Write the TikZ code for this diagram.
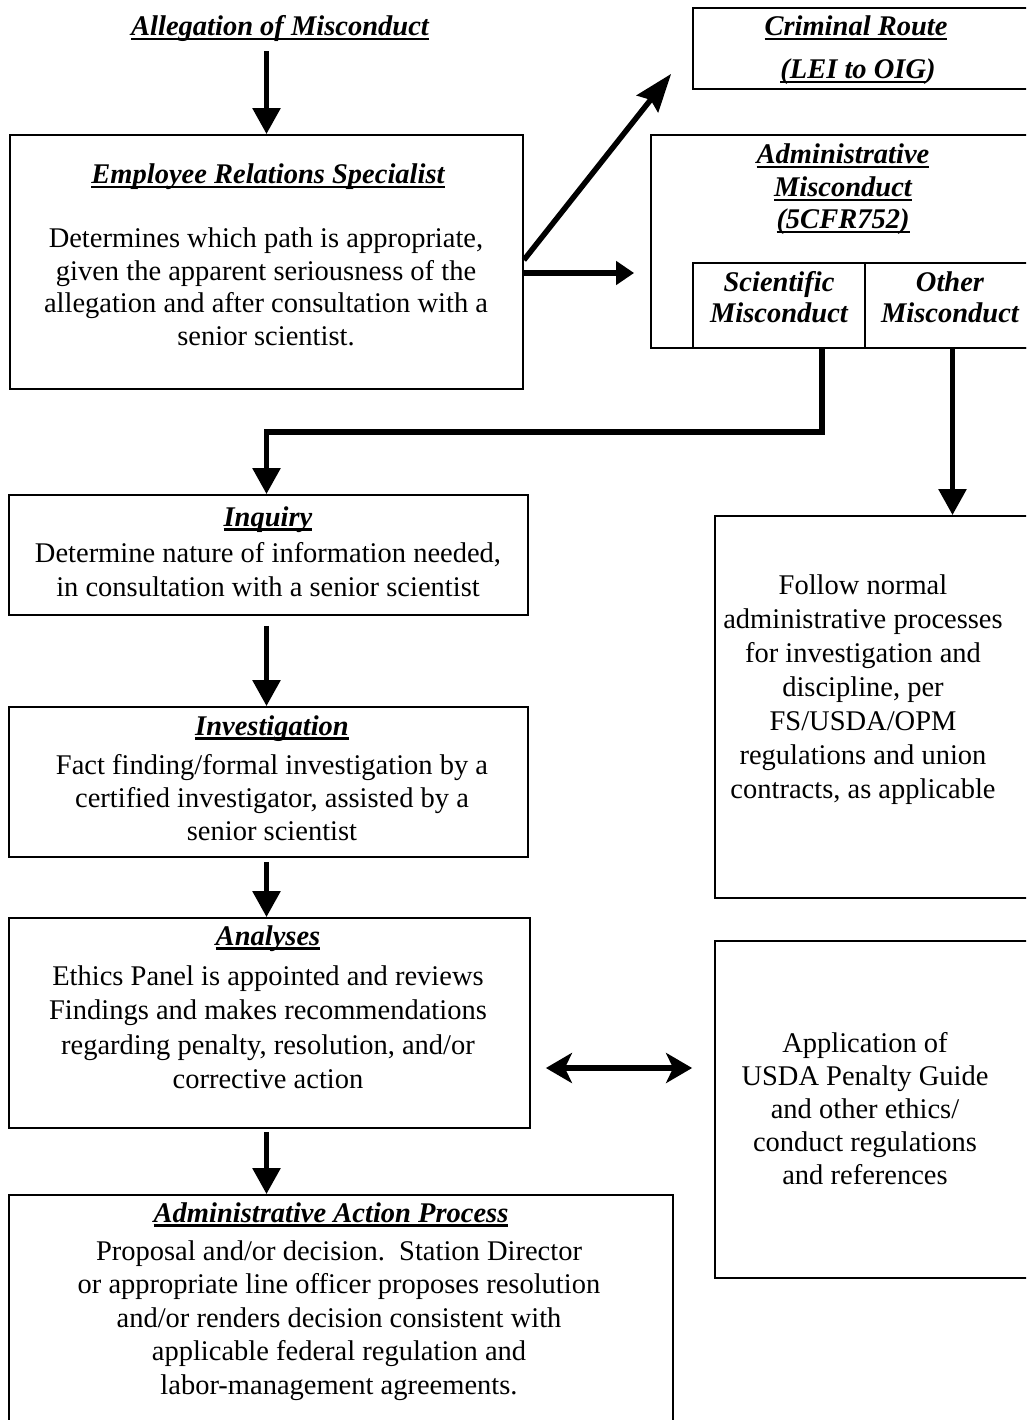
\documentclass[tikz,border=0pt]{standalone}
\usepackage{fontspec}
\setmainfont{Liberation Serif}
\usetikzlibrary{arrows.meta,calc}
\newcommand\myul[1]{\setbox0=\hbox{#1}\rlap{\rule[-4.5pt]{\wd0}{2.4pt}}\box0}
\newcommand\ml[1]{\begin{tabular}[t]{@{}c@{}}#1\end{tabular}}
\begin{document}
\begin{tikzpicture}[x=1pt,y=-1pt,line join=miter,
  box/.style={draw,line width=1.8pt,inner sep=0pt,minimum width=#1},
  txt/.style={inner sep=0pt,anchor=base,font=\fontsize{28.5}{33}\selectfont},
  ttl/.style={inner sep=0pt,anchor=base,font=\fontsize{28.5}{33}\selectfont\bfseries\itshape},
  flow/.style={line width=5.5pt,-{Triangle[length=26pt,width=27pt]}},
  bar/.style={line width=5.5pt}]
\path[use as bounding box] (0,0) rectangle (1026,1420);
\clip (0,0) rectangle (1026,1420);

% boxes
\node[box=513pt,minimum height=254pt] (ers) at (266.5,262) {};
\node[box=347pt,minimum height=81pt] (crim) at (866.5,48.5) {};
\node[box=389pt,minimum height=213pt] (adm) at (845.5,241.5) {};
\node[box=172pt,minimum height=85pt] (sci) at (779,305.5) {};
\node[box=175pt,minimum height=85pt] (oth) at (952.5,305.5) {};
\node[box=519pt,minimum height=120pt] (inq) at (268.5,555) {};
\node[box=519pt,minimum height=150pt] (inv) at (268.5,782) {};
\node[box=521pt,minimum height=210pt] (ana) at (269.5,1023) {};
\node[box=664pt,minimum height=245pt] (aap) at (341,1317.5) {};
\node[box=325pt,minimum height=382pt] (fol) at (877.5,707) {};
\node[box=325pt,minimum height=337pt] (app) at (877.5,1109.5) {};

% texts
\node[ttl] (alT) at (280,36) {\myul{Allegation of Misconduct}};
\node[ttl] (ersT) at (268,184) {\myul{Employee Relations Specialist}};
\node[txt,font=\fontsize{28.5}{32.5}\selectfont] (ersB) at (266,248) {\ml{Determines which path is appropriate,\\given the apparent seriousness of the\\allegation and after consultation with a\\senior scientist.}};
\node[ttl] (crimT) at (856,36) {\myul{Criminal Route}};
\node[ttl] (crimS) at (858,79) {\myul{(LEI to OIG})};
\node[ttl,font=\fontsize{28.5}{32.5}\selectfont\bfseries\itshape] (admT) at (843,164) {\ml{\myul{Administrative}\\\myul{Misconduct}\\\myul{(5CFR752)}}};
\node[ttl,font=\fontsize{28.5}{31}\selectfont\bfseries\itshape] (sciT) at (779,291) {\ml{Scientific\\Misconduct}};
\node[ttl,font=\fontsize{28.5}{31}\selectfont\bfseries\itshape] (othT) at (950,291) {\ml{Other\\Misconduct}};
\node[ttl] (inqT) at (268,526) {\myul{Inquiry}};
\node[txt,font=\fontsize{28.5}{34}\selectfont] (inqB) at (268,562) {\ml{Determine nature of information needed,\\in consultation with a senior scientist}};
\node[ttl] (invT) at (272,735) {\myul{Investigation}};
\node[txt,font=\fontsize{28.5}{33}\selectfont] (invB) at (272,774) {\ml{Fact finding/formal investigation by a\\certified investigator, assisted by a\\senior scientist}};
\node[ttl] (anaT) at (268,945) {\myul{Analyses}};
\node[txt,font=\fontsize{28.5}{34.5}\selectfont] (anaB) at (268,985) {\ml{Ethics Panel is appointed and reviews\\Findings and makes recommendations\\regarding penalty, resolution, and/or\\corrective action}};
\node[ttl] (aapT) at (331,1222) {\myul{Administrative Action Process}};
\node[txt,font=\fontsize{28.5}{33.5}\selectfont] (aapB) at (339,1260) {\ml{Proposal and/or decision.\ \ Station Director\\or appropriate line officer proposes resolution\\and/or renders decision consistent with\\applicable federal regulation and\\labor-management agreements.}};
\node[txt,font=\fontsize{28.5}{34}\selectfont] (folB) at (863,594) {\ml{Follow normal\\administrative processes\\for investigation and\\discipline, per\\FS/USDA/OPM\\regulations and union\\contracts, as applicable}};
\node[txt,font=\fontsize{28.5}{33}\selectfont] (appB) at (865,1052) {\ml{Application of\\USDA Penalty Guide\\and other ethics/\\conduct regulations\\and references}};

% connectors
\draw[flow] ($(ers.north)+(0,-83)$) -- (ers.north);
\draw[line width=5.5pt,-{Stealth[length=38pt,width=27pt,inset=5pt]}] ($(ers.east)+(0,-2)$) -- ($(crim.south west)+(-21,-16)$);
\draw[line width=5.5pt,-{Triangle[length=18pt,width=23pt]}] ($(ers.east)+(0,11)$) -- ($(adm.west |- ers.east)+(-16,11)$);
\draw[flow] ($(sci.south)+(43,0)$) |- ($(inq.north)+(-2,-62)$) -- ($(inq.north)+(-2,0)$);
\draw[flow] (oth.south) -- (oth.south |- fol.north);
\draw[flow] ($(inq.south)+(-2,10)$) -- ($(inv.north)+(-2,0)$);
\draw[flow] ($(inv.south)+(-2,4)$) -- ($(ana.north)+(-3,0)$);
\draw[flow] ($(ana.south)+(-3,3)$) -- ($(ana.south |- aap.north)+(-3,0)$);
\draw[line width=5.5pt,{Stealth[length=26pt,width=30pt,inset=7pt]}-{Stealth[length=26pt,width=30pt,inset=7pt]}] ($(ana.east)+(15,45)$) -- ($(app.west |- ana.east)+(-22,45)$);
\end{tikzpicture}
\end{document}
